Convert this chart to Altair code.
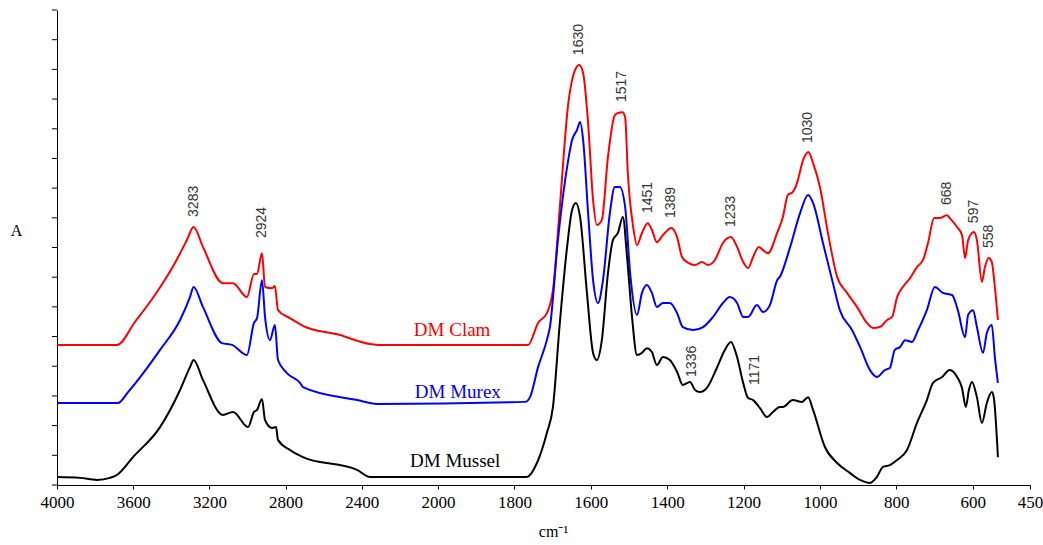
import altair as alt
import pandas as pd

# FTIR spectra of demineralised shell samples (wavenumber in cm-1, absorbance in a.u.)
clam_wn = [4000, 3685, 3591, 3486, 3381, 3318, 3283, 3234, 3129, 3076,
           3003, 2966, 2950, 2924, 2908, 2871, 2856, 2840, 2777, 2709,
           2515, 2357, 2305, 1764, 1738, 1715, 1699, 1681, 1660, 1641,
           1630, 1620, 1607, 1594, 1584, 1571, 1555, 1537, 1529, 1517,
           1510, 1503, 1489, 1479, 1466, 1451, 1440, 1427, 1411, 1389,
           1374, 1361, 1345, 1327, 1309, 1293, 1275, 1254, 1233, 1217,
           1201, 1188, 1175, 1160, 1149, 1136, 1112, 1097, 1084, 1071,
           1060, 1044, 1030, 1018, 1000, 979, 955, 929, 903, 877,
           861, 843, 824, 811, 798, 783, 764, 746, 730, 717,
           701, 686, 668, 660, 641, 628, 620, 612, 597, 589,
           576, 568, 558, 550, 542, 534]
clam_a = [0.472, 0.472, 0.549, 0.640, 0.748, 0.825, 0.869, 0.802, 0.680, 0.680,
          0.633, 0.711, 0.711, 0.781, 0.667, 0.663, 0.670, 0.589, 0.562, 0.536,
          0.505, 0.475, 0.472, 0.472, 0.546, 0.579, 0.657, 0.936, 1.273, 1.398,
          1.415, 1.388, 1.219, 0.960, 0.876, 0.893, 1.105, 1.246, 1.253, 1.256,
          1.239, 1.051, 0.869, 0.808, 0.849, 0.882, 0.859, 0.818, 0.842, 0.866,
          0.835, 0.768, 0.748, 0.741, 0.751, 0.741, 0.758, 0.815, 0.835, 0.802,
          0.751, 0.731, 0.768, 0.802, 0.791, 0.781, 0.849, 0.903, 0.977, 0.987,
          1.017, 1.095, 1.122, 1.084, 1.004, 0.849, 0.701, 0.647, 0.600, 0.546,
          0.529, 0.532, 0.556, 0.566, 0.633, 0.667, 0.697, 0.734, 0.758, 0.815,
          0.899, 0.899, 0.909, 0.899, 0.869, 0.842, 0.765, 0.825, 0.852, 0.825,
          0.684, 0.734, 0.765, 0.751, 0.667, 0.556]

murex_wn = [4000, 3680, 3627, 3459, 3354, 3302, 3283, 3234, 3134, 3081,
            3003, 2966, 2950, 2924, 2908, 2882, 2856, 2840, 2793, 2724,
            2709, 2425, 2320, 1772, 1759, 1738, 1715, 1707, 1686, 1662,
            1649, 1636, 1628, 1620, 1607, 1594, 1581, 1568, 1550, 1537,
            1524, 1510, 1497, 1479, 1466, 1453, 1440, 1427, 1411, 1393,
            1374, 1359, 1332, 1306, 1280, 1254, 1236, 1217, 1201, 1188,
            1165, 1149, 1131, 1112, 1105, 1078, 1052, 1031, 1018, 992,
            966, 948, 916, 895, 869, 851, 830, 817, 804, 790,
            777, 759, 743, 720, 699, 678, 654, 639, 620, 612,
            599, 589, 573, 563, 550, 542, 534]
murex_a = [0.276, 0.276, 0.313, 0.455, 0.556, 0.633, 0.667, 0.600, 0.478, 0.472,
           0.438, 0.546, 0.562, 0.690, 0.566, 0.488, 0.539, 0.421, 0.377, 0.344,
           0.330, 0.286, 0.273, 0.280, 0.296, 0.397, 0.488, 0.532, 0.825, 1.071,
           1.162, 1.196, 1.223, 1.162, 0.916, 0.690, 0.613, 0.690, 0.916, 1.004,
           1.004, 0.936, 0.714, 0.573, 0.647, 0.674, 0.647, 0.600, 0.613, 0.613,
           0.579, 0.532, 0.522, 0.532, 0.566, 0.613, 0.633, 0.613, 0.566, 0.566,
           0.606, 0.583, 0.606, 0.690, 0.701, 0.802, 0.916, 0.977, 0.950, 0.815,
           0.680, 0.589, 0.522, 0.465, 0.387, 0.364, 0.387, 0.394, 0.455, 0.465,
           0.488, 0.482, 0.522, 0.589, 0.667, 0.647, 0.640, 0.589, 0.498, 0.573,
           0.589, 0.532, 0.445, 0.512, 0.539, 0.431, 0.344]

mussel_wn = [4000, 3879, 3790, 3722, 3685, 3601, 3459, 3354, 3302, 3283,
             3234, 3129, 3076, 2997, 2966, 2950, 2924, 2908, 2871, 2850,
             2840, 2777, 2709, 2425, 2357, 1767, 1741, 1715, 1699, 1681,
             1662, 1649, 1639, 1628, 1610, 1594, 1584, 1571, 1555, 1542,
             1529, 1516, 1505, 1492, 1479, 1466, 1453, 1440, 1427, 1411,
             1393, 1374, 1359, 1340, 1327, 1314, 1296, 1270, 1249, 1233,
             1217, 1201, 1188, 1175, 1157, 1139, 1123, 1105, 1097, 1071,
             1047, 1031, 1018, 987, 955, 921, 895, 869, 851, 835,
             817, 798, 772, 746, 720, 704, 680, 660, 641, 628,
             618, 610, 602, 589, 576, 563, 550, 545, 534]
mussel_a = [0.027, 0.024, 0.017, 0.024, 0.034, 0.094, 0.195, 0.320, 0.397, 0.421,
            0.354, 0.236, 0.246, 0.195, 0.246, 0.253, 0.290, 0.219, 0.192, 0.195,
            0.152, 0.118, 0.094, 0.051, 0.027, 0.027, 0.074, 0.175, 0.263, 0.546,
            0.802, 0.926, 0.950, 0.903, 0.647, 0.445, 0.421, 0.488, 0.714, 0.825,
            0.849, 0.903, 0.768, 0.566, 0.438, 0.445, 0.461, 0.448, 0.404, 0.431,
            0.421, 0.381, 0.337, 0.347, 0.320, 0.313, 0.327, 0.394, 0.455, 0.482,
            0.431, 0.344, 0.293, 0.286, 0.259, 0.229, 0.246, 0.263, 0.263, 0.286,
            0.280, 0.296, 0.253, 0.128, 0.074, 0.040, 0.017, 0.007, 0.027, 0.061,
            0.067, 0.084, 0.118, 0.209, 0.286, 0.344, 0.364, 0.387, 0.364, 0.327,
            0.263, 0.320, 0.347, 0.296, 0.209, 0.276, 0.313, 0.296, 0.094]

samples = ["DM Clam", "DM Murex", "DM Mussel"]
sample_colors = ["#ff0000", "#0000ff", "#000000"]

# Band assignments annotated above the spectra
peak_wn = [3283, 2924, 1630, 1517, 1451, 1389, 1233, 1336, 1171, 1030, 668, 597, 558]
peak_label_a = [0.903, 0.832, 1.448, 1.290, 0.916, 0.899, 0.869, 0.364, 0.337,
                1.152, 0.943, 0.882, 0.798]

# Sample names written beside the flat 2400-1800 cm-1 region
name_wn = [1963, 1948, 1955]
name_a = [0.502, 0.293, 0.061]

x_ticks = [4000, 3600, 3200, 2800, 2400, 2000, 1800, 1600, 1400, 1200, 1000, 800, 600, 450]
y_ticks = [round(i * 0.1, 1) for i in range(17)]

spectra = pd.concat([
    pd.DataFrame({"wavenumber": clam_wn, "absorbance": clam_a, "sample": samples[0]}),
    pd.DataFrame({"wavenumber": murex_wn, "absorbance": murex_a, "sample": samples[1]}),
    pd.DataFrame({"wavenumber": mussel_wn, "absorbance": mussel_a, "sample": samples[2]}),
], ignore_index=True)

peaks = pd.DataFrame({"wavenumber": peak_wn, "absorbance": peak_label_a,
                      "label": [str(v) for v in peak_wn]})
names = pd.DataFrame({"wavenumber": name_wn, "absorbance": name_a, "sample": samples})
y_tick_df = pd.DataFrame({"absorbance": y_ticks})

PLOT_W, PLOT_H = 973, 475

# Broken wavenumber axis: 4000-2000 compressed, 2000-450 expanded
x_scale = alt.Scale(domain=[4000, 2000, 450], range=[0, 381, PLOT_W], zero=False, nice=False)
y_scale = alt.Scale(domain=[0, 1.6], zero=False, nice=False)
color_scale = alt.Scale(domain=samples, range=sample_colors)

x_axis = alt.Axis(values=x_ticks, format="d", grid=False, tickSize=4, labelPadding=5,
                  labelFont="Liberation Serif", labelFontSize=17, labelColor="#000000",
                  labelFlush=False, labelOverlap=False,
                  domainColor="#000000", tickColor="#000000",
                  title="cm⁻¹", titleFont="Liberation Serif", titleFontSize=16,
                  titleFontWeight="normal", titleColor="#000000",
                  titleX=496, titleY=46, titleBaseline="middle", titleAlign="center")
y_axis = alt.Axis(values=y_ticks, grid=False, labels=False, ticks=False,
                  domainColor="#000000",
                  title="A", titleFont="Liberation Serif", titleFontSize=16,
                  titleFontWeight="normal", titleColor="#000000", titleAngle=0,
                  titleX=-41, titleY=220, titleAlign="center", titleBaseline="middle")

lines = alt.Chart(spectra).mark_line(strokeWidth=2, interpolate="monotone").encode(
    x=alt.X("wavenumber:Q", scale=x_scale, axis=x_axis),
    y=alt.Y("absorbance:Q", scale=y_scale, axis=y_axis),
    color=alt.Color("sample:N", scale=color_scale, legend=None),
)

# Short outward tick marks on the absorbance axis
y_tick_marks = alt.Chart(y_tick_df).mark_rule(color="#000000", strokeWidth=1).encode(
    y=alt.Y("absorbance:Q", scale=y_scale),
    x=alt.value(-5),
    x2=alt.value(0),
)

peak_text = alt.Chart(peaks).mark_text(
    angle=270, align="left", baseline="middle",
    font="Liberation Sans", fontSize=14, color="#333333",
).encode(
    x=alt.X("wavenumber:Q", scale=x_scale),
    y=alt.Y("absorbance:Q", scale=y_scale),
    text="label:N",
)

name_text = alt.Chart(names).mark_text(
    align="center", baseline="alphabetic", font="Liberation Serif", fontSize=19,
).encode(
    x=alt.X("wavenumber:Q", scale=x_scale),
    y=alt.Y("absorbance:Q", scale=y_scale),
    text="sample:N",
    color=alt.Color("sample:N", scale=color_scale, legend=None),
)

chart = alt.layer(lines, y_tick_marks, peak_text, name_text).properties(
    width=PLOT_W, height=PLOT_H,
    autosize=alt.AutoSizeParams(type="none"),
    padding={"left": 57, "top": 10, "right": 13, "bottom": 60},
    background="#ffffff",
).configure_view(stroke=None, clip=False)

chart.save("out.html", embed_options={"renderer": "svg", "actions": False})
